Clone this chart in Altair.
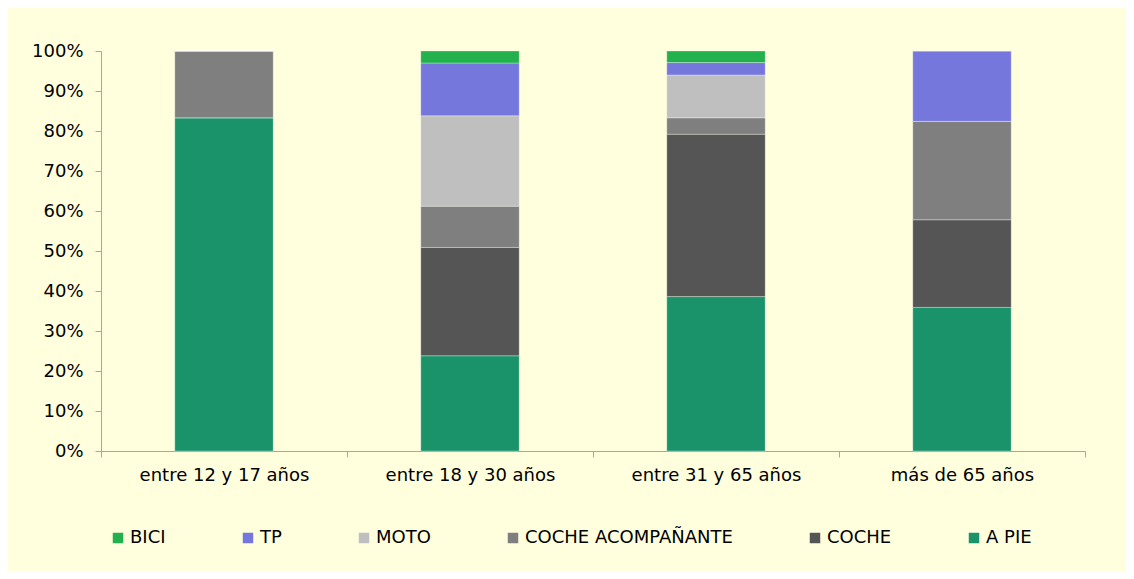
import altair as alt
import pandas as pd

groups = ["entre 12 y 17 años", "entre 18 y 30 años", "entre 31 y 65 años", "más de 65 años"]
modes = ["BICI", "TP", "MOTO", "COCHE ACOMPAÑANTE", "COCHE", "A PIE"]
colors = ["#22b14c", "#7577dc", "#bfbfbf", "#7f7f7f", "#555555", "#1b936a"]

a_pie = [83.3, 23.8, 38.6, 35.9]
coche = [0.0, 27.1, 40.6, 21.9]
coche_acomp = [16.7, 10.3, 4.1, 24.6]
moto = [0.0, 22.6, 10.7, 0.0]
tp = [0.0, 13.2, 3.1, 17.6]
bici = [0.0, 3.0, 2.9, 0.0]

series = {
    "A PIE": a_pie,
    "COCHE": coche,
    "COCHE ACOMPAÑANTE": coche_acomp,
    "MOTO": moto,
    "TP": tp,
    "BICI": bici,
}
stack_order = ["A PIE", "COCHE", "COCHE ACOMPAÑANTE", "MOTO", "TP", "BICI"]

rows = []
for m in stack_order:
    for g, v in zip(groups, series[m]):
        rows.append({"grupo": g, "modo": m, "valor": v, "orden": stack_order.index(m)})
df = pd.DataFrame(rows)

FONT = "DejaVu Sans"

chart = (
    alt.Chart(df)
    .mark_bar(width=alt.RelativeBandSize(0.4), stroke="#ffffff", strokeWidth=0.6, strokeOpacity=0.5)
    .encode(
        x=alt.X(
            "grupo:N",
            sort=groups,
            scale=alt.Scale(paddingInner=0, paddingOuter=0),
            axis=alt.Axis(
                title=None,
                labelAngle=0,
                tickBand="extent",
                labelPadding=9,
                tickSize=6,
                domainColor="#a6a6a6",
                tickColor="#a6a6a6",
                labelFontSize=18,
                labelFont=FONT,
                labelColor="#000000",
                grid=False,
            ),
        ),
        y=alt.Y(
            "valor:Q",
            stack="zero",
            scale=alt.Scale(domain=[0, 100], nice=False),
            axis=alt.Axis(
                title=None,
                values=list(range(0, 101, 10)),
                labelExpr="datum.value + '%'",
                tickSize=6,
                labelPadding=12,
                domainColor="#a6a6a6",
                tickColor="#a6a6a6",
                labelFontSize=18,
                labelFont=FONT,
                labelColor="#000000",
                grid=False,
            ),
        ),
        color=alt.Color(
            "modo:N",
            scale=alt.Scale(domain=modes, range=colors),
            legend=alt.Legend(
                title=None,
                orient="none",
                direction="horizontal",
                legendX=8,
                legendY=478,
                symbolType="square",
                symbolSize=110,
                symbolStrokeWidth=0,
                labelFontSize=18,
                labelFont=FONT,
                labelColor="#000000",
                labelLimit=0,
                labelOffset=3,
                columnPadding=73,
                padding=0,
            ),
        ),
        order=alt.Order("orden:Q", sort="ascending"),
    )
    .properties(
        width=984,
        height=400,
        background="#ffffde",
        autosize=alt.AutoSizeParams(type="none"),
        padding={"left": 93, "top": 43, "right": 41, "bottom": 120},
    )
    .configure_view(stroke=None)
)

chart.save("out.html", embed_options={"renderer": "svg", "actions": False})
